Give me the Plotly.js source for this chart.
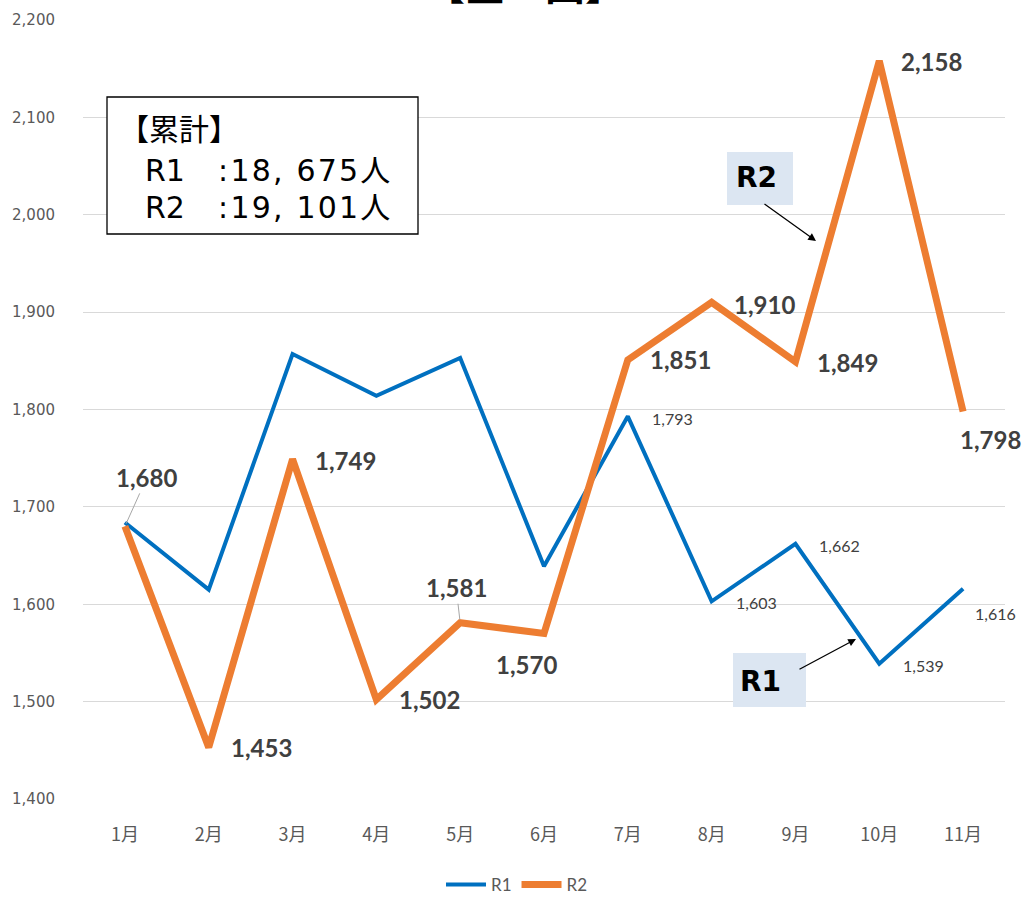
<!DOCTYPE html>
<html><head><meta charset="utf-8">
<script src="https://cdn.plot.ly/plotly-3.0.1.min.js"></script>
<style>html,body{margin:0;padding:0;background:#fff;}#chart{width:1034px;height:907px;}</style>
</head><body><div id="chart"></div>
<script>
// ---- data ----
const months = ['1月','2月','3月','4月','5月','6月','7月','8月','9月','10月','11月'];
const r1 = [1684, 1615, 1857, 1814, 1853, 1639, 1793, 1603, 1662, 1539, 1616];
const r2 = [1680, 1453, 1749, 1502, 1581, 1570, 1851, 1910, 1849, 2158, 1798];
const r1Labelled = [false,false,false,false,false,false,true,true,true,true,true];
const yTicks = [1400,1500,1600,1700,1800,1900,2000,2100,2200];
const totalR1 = '18, 675人';
const totalR2 = '19, 101人';
const titleText = '【全　国】';

// ---- label offsets (px) ----
const r2Off = [[22,49,true],[53,0],[53,-1],[53,0],[-4,35,true],[-18,-31],[53,0],[53,-2],[52,-1],[52,-1],[27,-28]];
const r1Off = {6:[45,-2],7:[45,-1],8:[44,-2],9:[44,-2],10:[32,-25]};

const fmt = v => v.toLocaleString('en-US');
const PX0 = 83, PW = 922, PY0 = 799, PH = 779;
const px = x => (x - PX0) / PW;
const py = y => (PY0 - y) / PH;

const traces = [
  {x: months, y: r1, name: 'R1', type: 'scatter', mode: 'lines',
   line: {color: '#0070C0', width: 4, shape: 'linear'}},
  {x: months, y: r2, name: 'R2', type: 'scatter', mode: 'lines',
   line: {color: '#ED7D31', width: 7, shape: 'linear'}}
];

const ann = [];
r2.forEach((v, i) => {
  const o = r2Off[i];
  const a = {x: months[i], y: v, text: '<b>' + fmt(v) + '</b>',
    font: {family: 'Lato, sans-serif', size: 24, color: '#404040'}};
  if (o[2]) {
    Object.assign(a, {showarrow: true, arrowhead: 0, arrowwidth: 1, arrowcolor: '#a6a6a6',
      ax: o[0], ay: -o[1], standoff: 3});
  } else {
    Object.assign(a, {showarrow: false, xshift: o[0], yshift: o[1]});
  }
  ann.push(a);
});
r1.forEach((v, i) => {
  if (!r1Labelled[i]) return;
  const o = r1Off[i];
  ann.push({x: months[i], y: v, text: fmt(v), showarrow: false, xshift: o[0], yshift: o[1],
    font: {family: 'Lato, sans-serif', size: 16, color: '#404040'}});
});

const cjkFont = {family: '"Noto Sans CJK JP", sans-serif', size: 30, color: '#000'};
const boxFont = {family: '"DejaVu Sans", "Noto Sans CJK JP", sans-serif', size: 30, color: '#000'};
const P = (x, y, text, font, extra) => Object.assign({xref: 'paper', yref: 'paper', x: px(x), y: py(y),
  xanchor: 'left', yanchor: 'middle', text: text, showarrow: false, font: font}, extra || {});
// cumulative box text
ann.push(P(117, 127, '【累計】', cjkFont));
ann.push(P(143, 170, 'R1', boxFont));
ann.push(P(226, 170, ':' + totalR1, boxFont));
ann.push(P(143, 207, 'R2', boxFont));
ann.push(P(226, 207, ':' + totalR2, boxFont));

// callouts
const calloutFont = {family: '"DejaVu Sans", sans-serif', size: 28, color: '#000', weight: 'bold'};
ann.push(P(756, 178, 'R2', calloutFont, {xanchor: 'center'}));
ann.push(P(760, 681, 'R1', calloutFont, {xanchor: 'center'}));
ann.push(P(816, 241, '', null, {xanchor: 'center', showarrow: true,
  arrowhead: 2, arrowsize: 1.2, arrowwidth: 1.3, arrowcolor: '#000', ax: -53, ay: -38, standoff: 0}));
ann.push(P(856, 639, '', null, {xanchor: 'center', showarrow: true,
  arrowhead: 2, arrowsize: 1.2, arrowwidth: 1.3, arrowcolor: '#000', ax: -58, ay: 31, standoff: 0}));
ann.forEach(a => { if (a.font === null) delete a.font; });

// cut-off title
ann.push({xref: 'paper', yref: 'paper', x: px(525), y: 1, xanchor: 'center', yanchor: 'bottom', yshift: 6,
  text: '<b>' + titleText + '</b>', showarrow: false,
  font: {family: '"Noto Sans CJK JP", sans-serif', size: 40, color: '#000'}});

const shapes = [
  {type: 'rect', xref: 'paper', yref: 'paper', x0: px(107), x1: px(418), y0: py(234), y1: py(97),
   line: {color: '#000', width: 1.3}, fillcolor: '#fff', layer: 'above'},
  {type: 'rect', xref: 'paper', yref: 'paper', x0: px(727), x1: px(793), y0: py(205), y1: py(152),
   line: {width: 0}, fillcolor: '#DCE6F2', layer: 'above'},
  {type: 'rect', xref: 'paper', yref: 'paper', x0: px(733), x1: px(806), y0: py(707), y1: py(653),
   line: {width: 0}, fillcolor: '#DCE6F2', layer: 'above'}
];

const layout = {
  width: 1034, height: 907,
  margin: {l: 83, r: 29, t: 20, b: 108, autoexpand: false},
  paper_bgcolor: '#fff', plot_bgcolor: '#fff',
  showlegend: true,
  legend: {orientation: 'h', xref: 'container', yref: 'container', x: 0.5, xanchor: 'center',
    y: (907 - 885) / 907, yanchor: 'middle',
    font: {family: 'Lato, sans-serif', size: 17, color: '#595959'}, itemwidth: 40},
  xaxis: {type: 'category', range: [-0.5, 10.5], showgrid: false, zeroline: false, showline: false,
    automargin: false, ticks: 'outside', ticklen: 19, tickcolor: 'rgba(0,0,0,0)',
    tickfont: {family: '"Noto Sans CJK JP", sans-serif', size: 18, color: '#595959'}},
  yaxis: {range: [1400, 2200], tickvals: yTicks, ticktext: yTicks.map(fmt), automargin: false,
    showgrid: true, gridcolor: '#D9D9D9', gridwidth: 1, zeroline: false, showline: false,
    ticks: 'outside', ticklen: 24, tickcolor: 'rgba(0,0,0,0)',
    tickfont: {family: '"DejaVu Sans", sans-serif', size: 15, color: '#595959'}},
  annotations: ann,
  shapes: shapes
};

Plotly.newPlot('chart', traces, layout, {displayModeBar: false, staticPlot: true}).then(gd => {
  gd.querySelectorAll('.annotation-text').forEach(t => {
    if (t.textContent.indexOf(':') === 0) t.style.letterSpacing = '2.2px';
  });
});
</script>
</body></html>
